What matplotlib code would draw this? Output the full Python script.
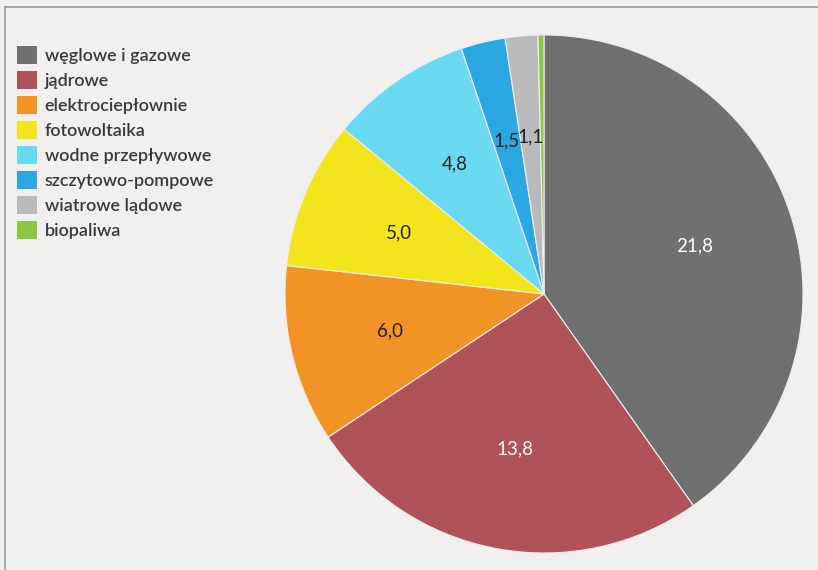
import matplotlib.pyplot as plt
import matplotlib.patches as patches
from matplotlib.lines import Line2D

plt.rcParams['font.family'] = ['Lato', 'DejaVu Sans']

labels = ['węglowe i gazowe', 'jądrowe', 'elektrociepłownie', 'fotowoltaika',
          'wodne przepływowe', 'szczytowo-pompowe', 'wiatrowe lądowe', 'biopaliwa']
values = [21.8, 13.8, 6.0, 5.0, 4.8, 1.5, 1.1, 0.2]
value_text = ['21,8', '13,8', '6,0', '5,0', '4,8', '1,5', '1,1', '']
colors = ['#707070', '#b0525a', '#f29325', '#f3e51c', '#68d9f1', '#2ba8e4', '#bababa', '#8dc63f']
text_colors = ['white', 'white', '#222222', '#222222', '#222222', '#222222', '#222222', '#222222']

bg = '#f1f0ee'
fig = plt.figure(figsize=(8.18, 5.7), dpi=100, facecolor=bg)

ax = fig.add_axes([285 / 818, 17 / 570, 518 / 818, 518 / 570])
ax.set_facecolor(bg)
wedges, texts = ax.pie(values, colors=colors, startangle=90, counterclock=False,
                       labels=value_text, labeldistance=0.61,
                       wedgeprops=dict(edgecolor='#eeeeee', linewidth=0.8),
                       textprops=dict(fontsize=13.5))
for t, c in zip(texts, text_colors):
    t.set_color(c)
    t.set_horizontalalignment('center')
ax.set_xlim(-1, 1)
ax.set_ylim(-1, 1)
ax.set_aspect('equal')

# legend
handles = [patches.Patch(facecolor=c, edgecolor='none') for c in colors]
fig.legend(handles, labels, loc='upper left', bbox_to_anchor=(4 / 818, 1 - 33 / 570),
           frameon=False, prop=dict(size=13, weight='semibold'),
           handlelength=1.1, handleheight=1.2,
           handletextpad=0.45, labelspacing=0.36, labelcolor='#3a3a3a', borderpad=0.2)

# frame lines at top and left
fig.add_artist(Line2D([5 / 818, 1], [1 - 7 / 570, 1 - 7 / 570], color='#9a9a9a', lw=1.2))
fig.add_artist(Line2D([5 / 818, 5 / 818], [0, 1 - 7 / 570], color='#9a9a9a', lw=1.2))

fig.savefig('out.png', dpi=100, facecolor=bg)
